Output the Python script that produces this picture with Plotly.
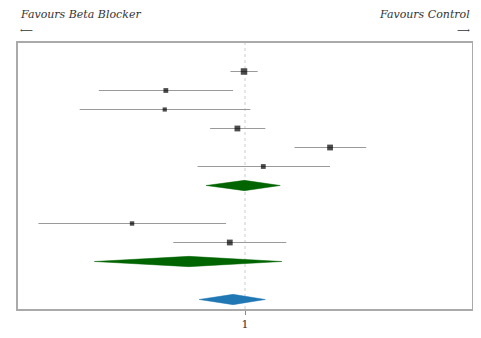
import plotly.graph_objects as go

# ---- data (odds ratios) ----
study_rows = [0, 1, 2, 3, 4, 5, 8, 9]
study_or = [0.99, 0.448, 0.443, 0.926, 2.37, 1.204, 0.318, 0.857]
study_lo = [0.863, 0.227, 0.187, 0.702, 1.652, 0.618, 0.123, 0.483]
study_hi = [1.137, 0.886, 1.056, 1.229, 3.42, 2.37, 0.825, 1.52]
study_size = [6.5, 4.8, 4.2, 5.8, 5.8, 4.8, 4.4, 5.8]

pooled_rows = [6, 10, 12]
pooled_or = [0.994, 0.566, 0.886]
pooled_lo = [0.674, 0.217, 0.628]
pooled_hi = [1.43, 1.453, 1.229]
pooled_colors = ["#006400", "#006400", "#1f77b4"]

left_label = "Favours Beta Blocker"
right_label = "Favours Control"

fig = go.Figure()

# CI lines
lx, ly = [], []
for r, lo, hi in zip(study_rows, study_lo, study_hi):
    lx += [lo, hi, None]
    ly += [r, r, None]
fig.add_trace(go.Scatter(x=lx, y=ly, mode="lines",
                         line=dict(color="#9a9a9a", width=1),
                         hoverinfo="skip", showlegend=False))

# study point estimates
fig.add_trace(go.Scatter(x=study_or, y=study_rows, mode="markers",
                         marker=dict(symbol="square", color="black",
                                     size=study_size, line=dict(width=0)),
                         showlegend=False))

# pooled diamonds
h = 0.27
for r, c, lo, hi, col in zip(pooled_rows, pooled_or, pooled_lo, pooled_hi, pooled_colors):
    fig.add_trace(go.Scatter(x=[lo, c, hi, c, lo], y=[r, r - h, r, r + h, r],
                             mode="lines", fill="toself", fillcolor=col,
                             line=dict(color=col, width=0.5),
                             hoverinfo="skip", showlegend=False))

# reference line at 1
fig.add_shape(type="line", xref="x", yref="paper", x0=1, x1=1, y0=0, y1=1,
              line=dict(color="#cccccc", width=1, dash="dot"), layer="below")

font_serif = "DejaVu Serif"
fig.update_layout(
    width=473, height=330,
    margin=dict(l=10, r=7, t=35, b=26),
    paper_bgcolor="white", plot_bgcolor="white",
    xaxis=dict(type="log", range=[-1, 1], tickvals=[1], ticktext=["1"],
               showgrid=False, zeroline=False,
               showline=True, mirror=True, linecolor="#aaaaaa", linewidth=1.5,
               ticks="outside", ticklen=4, tickcolor="#888888",
               tickfont=dict(family=font_serif, size=11, color="#333333")),
    yaxis=dict(range=[12.5, -1.5], showgrid=False, zeroline=False,
               showticklabels=False, ticks="",
               showline=True, mirror=True, linecolor="#aaaaaa", linewidth=1.5),
    annotations=[
        dict(text="<i>" + left_label + "</i>", xref="paper", yref="paper",
             x=0, y=1.108, xanchor="left", yanchor="middle", showarrow=False,
             font=dict(family=font_serif, size=11, color="#333333")),
        dict(text="<i>" + right_label + "</i>", xref="paper", yref="paper",
             x=1, y=1.108, xanchor="right", yanchor="middle", showarrow=False,
             font=dict(family=font_serif, size=11, color="#333333")),
        dict(text="⟵", xref="paper", yref="paper",
             x=0, y=1.05, xanchor="left", yanchor="middle", showarrow=False,
             font=dict(family=font_serif, size=9, color="#333333")),
        dict(text="⟶", xref="paper", yref="paper",
             x=1, y=1.05, xanchor="right", yanchor="middle", showarrow=False,
             font=dict(family=font_serif, size=9, color="#333333")),
    ],
)

fig.write_html("out.html")
